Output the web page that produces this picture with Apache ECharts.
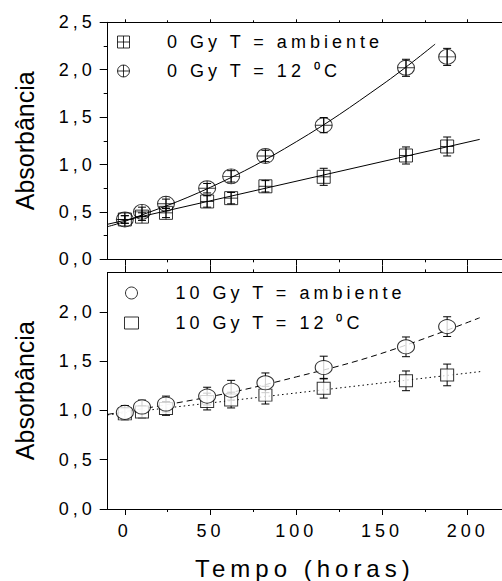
<!DOCTYPE html>
<html><head><meta charset="utf-8">
<script src="https://cdn.jsdelivr.net/npm/echarts@6/dist/echarts.min.js"></script>
<style>
html,body{margin:0;padding:0;background:#fff;}
#chart{width:502px;height:581px;}
#chart text{letter-spacing:4px;}
#chart text[style*="sans-serif"]{letter-spacing:5px;}
#chart text[style*="Arial"]{letter-spacing:0;}
</style></head>
<body><div id="chart"></div>
<script>
// ---- data ----
const times = [0, 10, 24, 48, 62, 82, 116, 164, 188];
// top panel (0 Gy)
const top0Amb = [0.42, 0.45, 0.49, 0.61, 0.645, 0.77, 0.87, 1.095, 1.19];
const top0AmbErr = [0.04, 0.04, 0.05, 0.06, 0.06, 0.06, 0.09, 0.09, 0.10];
const top0C12 = [0.42, 0.50, 0.585, 0.75, 0.875, 1.09, 1.415, 2.02, 2.135];
const top0C12Err = [0.04, 0.05, 0.05, 0.05, 0.06, 0.06, 0.08, 0.09, 0.09];
// bottom panel (10 Gy)
const bot10Amb = [0.98, 1.035, 1.065, 1.145, 1.205, 1.28, 1.435, 1.645, 1.85];
const bot10AmbErr = [0.07, 0.07, 0.08, 0.09, 0.10, 0.10, 0.115, 0.10, 0.10];
const bot10C12 = [0.965, 0.985, 1.02, 1.09, 1.105, 1.155, 1.225, 1.30, 1.36];
const bot10C12Err = [0.06, 0.06, 0.07, 0.085, 0.08, 0.09, 0.10, 0.10, 0.11];
// fitted curves
const fitTopAmbX = [-10, 207];
const fitTopAmbY = [0.37, 1.265];
const fitTopC12X = [-10, 0, 50, 100, 150, 181];
const fitTopC12Y = [0.345, 0.40, 0.76, 1.24, 1.84, 2.27];
const fitBotAmbX = [-10, 50, 100, 150, 207];
const fitBotAmbY = [0.96, 1.14, 1.34, 1.58, 1.94];
const fitBotC12X = [-10, 208];
const fitBotC12Y = [0.955, 1.395];
// ticks / labels
const xMajor = [0, 50, 100, 150, 200];
const xMinor = [25, 75, 125, 175];
const yMajorTop = [0, 0.5, 1.0, 1.5, 2.0, 2.5];
const yMajorBot = [0, 0.5, 1.0, 1.5, 2.0];
const yMinorBot = [0.25, 0.75, 1.25, 1.75, 2.25];
const names = ['0 Gy T = ambiente', '0 Gy T = 12 \u2070C', '10 Gy T = ambiente', '10 Gy T = 12 \u2070C'];
const xTitle = 'Tempo (horas)';
const yTitle = 'Absorbância';

// ---- helpers ----
const FONT = 'Liberation Sans';
const pairs = (xs, ys) => xs.map((x, i) => [x, ys[i]]);
const errData = (ys, es) => times.map((t, i) => [t, ys[i] - es[i], ys[i] + es[i]]);
const fmtY = v => v.toFixed(1).replace('.', ',');
const SQ_PLUS = 'path://M0,0L10,0L10,10L0,10Z M5,0L5,10 M0,5L10,5';
const CI_PLUS = 'path://M10,5A5,5,0,1,1,0,5A5,5,0,1,1,10,5Z M5,0L5,10 M0,5L10,5';

function errRender(params, api) {
  const x = api.value(0);
  const p1 = api.coord([x, api.value(2)]);
  const p2 = api.coord([x, api.value(1)]);
  const w = 4;
  const st = { stroke: '#000', lineWidth: 1 };
  return { type: 'group', children: [
    { type: 'line', shape: { x1: p1[0], y1: p1[1], x2: p2[0], y2: p2[1] }, style: st },
    { type: 'line', shape: { x1: p1[0] - w, y1: p1[1], x2: p1[0] + w, y2: p1[1] }, style: st },
    { type: 'line', shape: { x1: p2[0] - w, y1: p2[1], x2: p2[0] + w, y2: p2[1] }, style: st }
  ]};
}

const axLine = { show: true, onZero: false, lineStyle: { color: '#000', width: 1 } };
const noLine = { show: false, onZero: false };
function xAx(grid, pos, vals, len, labels, extra) {
  return Object.assign({
    type: 'value', gridIndex: grid, position: pos, min: -10, max: 220,
    axisLine: axLine,
    axisTick: { show: true, inside: false, length: len, customValues: vals, lineStyle: { color: '#000', width: 1 } },
    axisLabel: labels ? { show: true, customValues: vals, margin: 13, color: '#000', fontSize: 18, fontFamily: FONT } : { show: false },
    splitLine: { show: false }
  }, extra || {});
}
const yName = {
  name: yTitle, nameLocation: 'middle', nameGap: 70,
  nameTextStyle: { fontSize: 25, fontFamily: 'Arial, Liberation Sans', color: '#000' }
};

const chart = echarts.init(document.getElementById('chart'), null, { renderer: 'svg' });
const option = {
  animation: false,
  textStyle: { fontFamily: FONT, color: '#000' },
  grid: [
    { left: 107.7, top: 22.3, width: 397, height: 237 },
    { left: 107.7, top: 272.4, width: 397, height: 236.6 }
  ],
  xAxis: [
    xAx(0, 'bottom', xMajor, 6, false),
    xAx(0, 'bottom', xMinor, 3, false, { axisLine: noLine }),
    xAx(0, 'top', xMajor, 3, false),
    xAx(0, 'top', xMinor, 2, false, { axisLine: noLine }),
    xAx(1, 'bottom', xMajor, 6, true, {
      name: xTitle, nameLocation: 'middle', nameGap: 47,
      nameTextStyle: { fontSize: 24, fontFamily: 'Liberation Sans, sans-serif', color: '#000' }
    }),
    xAx(1, 'bottom', xMinor, 3, false, { axisLine: noLine }),
    xAx(1, 'top', xMajor, 7, false),
    xAx(1, 'top', xMinor, 3, false, { axisLine: noLine })
  ],
  yAxis: [
    Object.assign({
      type: 'value', gridIndex: 0, min: 0, max: 2.5, interval: 0.5,
      axisLine: axLine,
      axisTick: { show: true, length: 8, lineStyle: { color: '#000' } },
      minorTick: { show: true, splitNumber: 2, length: 4, lineStyle: { color: '#000' } },
      axisLabel: { formatter: fmtY, margin: 12, color: '#000', fontSize: 18, fontFamily: FONT },
      splitLine: { show: false }, minorSplitLine: { show: false }
    }, yName),
    Object.assign({
      type: 'value', gridIndex: 1, min: 0, max: 2.4,
      axisLine: axLine,
      axisTick: { show: true, length: 8, customValues: yMajorBot, lineStyle: { color: '#000' } },
      axisLabel: { customValues: yMajorBot, formatter: fmtY, margin: 12, color: '#000', fontSize: 18, fontFamily: FONT },
      splitLine: { show: false }
    }, yName),
    {
      type: 'value', gridIndex: 1, min: 0, max: 2.4,
      axisLine: noLine,
      axisTick: { show: true, length: 4, customValues: yMinorBot, lineStyle: { color: '#000' } },
      axisLabel: { show: false }, splitLine: { show: false }
    }
  ],
  legend: [
    {
      orient: 'vertical', left: 117, top: 33, padding: 0, itemWidth: 13, itemHeight: 12, itemGap: 11,
      selectedMode: false,
      textStyle: { fontSize: 18, fontFamily: FONT, color: '#000', padding: [0, 0, 0, 32], lineHeight: 18 },
      data: [
        { name: names[0], icon: SQ_PLUS, itemStyle: { color: 'transparent', borderColor: '#000', borderWidth: 1 } },
        { name: names[1], icon: CI_PLUS, itemStyle: { color: 'transparent', borderColor: '#000', borderWidth: 1 } }
      ]
    },
    {
      orient: 'vertical', left: 124, top: 284, padding: 0, itemWidth: 14, itemHeight: 12, itemGap: 12,
      selectedMode: false,
      textStyle: { fontSize: 18, fontFamily: FONT, color: '#000', padding: [0, 0, 0, 32], lineHeight: 18 },
      data: [
        { name: names[2], icon: 'circle', itemStyle: { color: '#fff', borderColor: '#000', borderWidth: 1 } },
        { name: names[3], icon: 'rect', itemStyle: { color: '#fff', borderColor: '#000', borderWidth: 1 } }
      ]
    }
  ],
  series: [
    // top panel
    { type: 'line', name: 'fitA', xAxisIndex: 0, yAxisIndex: 0, data: pairs(fitTopAmbX, fitTopAmbY),
      showSymbol: false, lineStyle: { color: '#000', width: 1 }, z: 2, silent: true },
    { type: 'line', name: 'fitB', xAxisIndex: 0, yAxisIndex: 0, data: pairs(fitTopC12X, fitTopC12Y), smooth: 0.4,
      showSymbol: false, lineStyle: { color: '#000', width: 1 }, z: 2, silent: true },
    { type: 'custom', name: 'errA', xAxisIndex: 0, yAxisIndex: 0, renderItem: errRender, data: errData(top0Amb, top0AmbErr), z: 3 },
    { type: 'custom', name: 'errB', xAxisIndex: 0, yAxisIndex: 0, renderItem: errRender, data: errData(top0C12, top0C12Err), z: 3 },
    { type: 'scatter', name: names[0], xAxisIndex: 0, yAxisIndex: 0, data: pairs(times, top0Amb),
      symbol: SQ_PLUS, symbolSize: 13, itemStyle: { color: 'transparent', borderColor: '#000', borderWidth: 1 }, z: 4 },
    { type: 'scatter', name: names[1], xAxisIndex: 0, yAxisIndex: 0, data: pairs(times, top0C12),
      symbol: CI_PLUS, symbolSize: [17, 15], itemStyle: { color: 'transparent', borderColor: '#000', borderWidth: 1 }, z: 4 },
    // bottom panel
    { type: 'custom', name: 'errC', xAxisIndex: 4, yAxisIndex: 1, renderItem: errRender, data: errData(bot10Amb, bot10AmbErr), z: 3 },
    { type: 'custom', name: 'errD', xAxisIndex: 4, yAxisIndex: 1, renderItem: errRender, data: errData(bot10C12, bot10C12Err), z: 3 },
    { type: 'line', name: 'fitC', xAxisIndex: 4, yAxisIndex: 1, data: pairs(fitBotAmbX, fitBotAmbY), smooth: 0.4,
      showSymbol: false, lineStyle: { color: '#000', width: 1, type: [6, 4] }, z: 3, silent: true },
    { type: 'scatter', name: names[3], xAxisIndex: 4, yAxisIndex: 1, data: pairs(times, bot10C12),
      symbol: 'rect', symbolSize: [13, 12], itemStyle: { color: '#fff', borderColor: '#000', borderWidth: 1 }, z: 4 },
    { type: 'scatter', name: names[2], xAxisIndex: 4, yAxisIndex: 1, data: pairs(times, bot10Amb),
      symbol: 'circle', symbolSize: [17, 14], itemStyle: { color: '#fff', borderColor: '#000', borderWidth: 1 }, z: 5 },
    { type: 'line', name: 'fitD', xAxisIndex: 4, yAxisIndex: 1, data: pairs(fitBotC12X, fitBotC12Y),
      showSymbol: false, lineStyle: { color: '#000', width: 1, type: [1.5, 3] }, z: 4, silent: true }
  ]
};
chart.setOption(option);
</script>
</body></html>
